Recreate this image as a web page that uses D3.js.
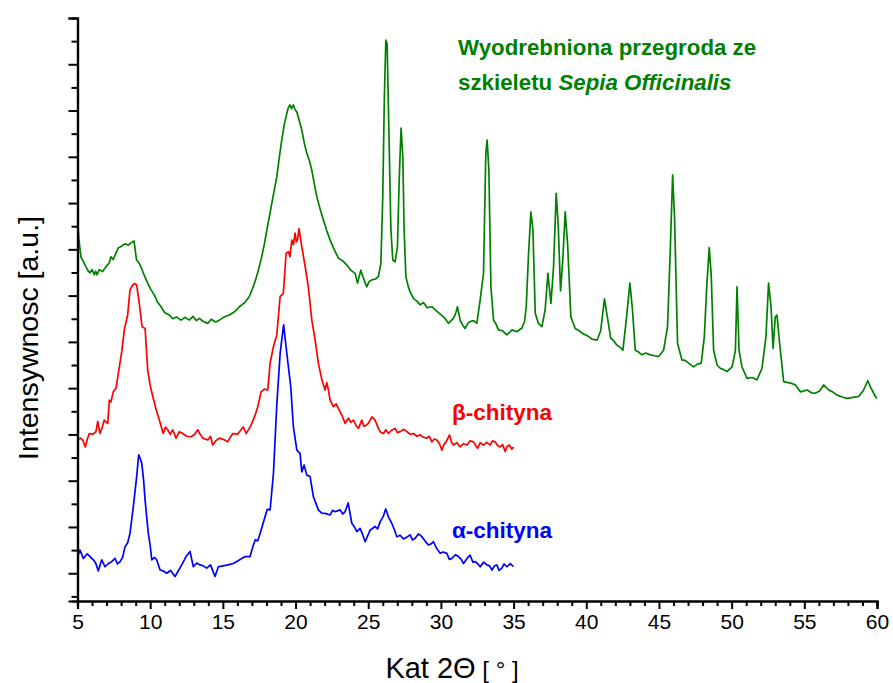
<!DOCTYPE html>
<html>
<head>
<meta charset="utf-8">
<script src="https://cdn.jsdelivr.net/npm/d3@7/dist/d3.min.js"></script>
<style>
  html, body { margin: 0; padding: 0; background: #fff; }
  svg { display: block; font-family: "Liberation Sans", Arial, Helvetica, sans-serif; }
</style>
</head>
<body>
<svg id="chart" width="893" height="683"></svg>
<script>
// Diffraction scans: [angle 2θ in degrees, intensity in a.u. (offset stacked)]
const sepiaScan = [
  [5.01,76.3],[5.10,72.0],[5.24,68.3],[5.40,67.4],[5.58,66.2],[5.72,65.4],[5.86,64.9],[6.00,65.6],[6.16,64.5],[6.25,65.3],[6.34,64.5],[6.50,65.6],
  [6.73,65.2],[6.90,66.0],[7.05,66.6],[7.17,67.0],[7.30,68.4],[7.45,67.8],[7.65,69.2],[7.80,70.3],[8.00,70.6],[8.11,70.9],[8.30,71.2],[8.50,70.9],
  [8.68,71.4],[8.89,71.8],[9.06,67.7],[9.20,67.2],[9.37,66.2],[9.60,64.3],[9.83,62.7],[10.05,61.3],[10.29,60.1],[10.50,58.6],[10.75,57.6],
  [11.00,56.3],[11.32,55.8],[11.55,55.0],[11.80,55.4],[12.12,54.7],[12.40,55.3],[12.69,54.7],[12.95,55.5],[13.18,54.6],[13.38,55.1],[13.65,54.4],
  [13.96,54.0],[14.20,54.9],[14.50,54.3],[14.76,54.7],[15.10,55.4],[15.45,55.8],[15.80,56.5],[16.14,57.6],[16.50,58.5],[16.82,59.8],[17.05,61.6],
  [17.25,63.4],[17.45,65.6],[17.65,68.1],[17.82,70.6],[17.99,73.5],[18.20,77.1],[18.37,80.0],[18.55,83.0],[18.71,85.7],[18.88,89.8],[19.05,93.6],
  [19.22,96.9],[19.40,99.4],[19.50,100.6],[19.62,101.2],[19.72,100.4],[19.85,101.2],[19.95,100.3],[20.09,99.7],[20.25,97.9],[20.43,95.8],[20.60,93.0],
  [20.77,90.8],[20.95,89.2],[21.12,87.1],[21.30,84.0],[21.46,81.4],[21.70,78.6],[21.92,76.3],[22.15,74.0],[22.38,72.0],[22.65,70.0],[22.95,68.1],
  [23.25,67.5],[23.53,66.6],[23.80,65.5],[24.10,64.8],[24.26,62.7],[24.49,65.5],[24.70,63.5],[24.90,61.9],[25.05,63.0],[25.25,63.4],[25.50,63.6],
  [25.70,64.1],[25.87,67.0],[26.00,81.4],[26.11,103.0],[26.21,115.2],[26.30,114.5],[26.42,95.8],[26.56,74.2],[26.69,67.7],[26.85,67.3],[27.01,70.6],
  [27.13,85.0],[27.26,96.2],[27.38,90.0],[27.47,74.2],[27.59,64.1],[27.75,62.0],[27.88,60.8],[28.11,59.4],[28.35,58.8],[28.57,58.0],[28.80,58.5],
  [29.05,57.4],[29.38,57.6],[29.65,56.8],[29.95,56.0],[30.25,55.2],[30.52,54.0],[30.70,54.6],[30.86,55.1],[31.00,56.0],[31.14,57.6],[31.32,54.7],
  [31.50,53.6],[31.67,52.9],[31.85,54.0],[32.01,54.4],[32.25,54.6],[32.47,54.0],[32.70,59.1],[32.93,64.8],[33.09,90.8],[33.18,93.6],[33.30,87.1],
  [33.44,61.9],[33.62,54.7],[33.80,53.8],[33.96,52.6],[34.25,52.4],[34.54,51.5],[34.90,52.6],[35.23,52.2],[35.57,53.0],[35.75,54.3],[35.87,57.6],
  [36.03,69.1],[36.19,78.1],[36.33,74.2],[36.49,56.2],[36.71,54.0],[36.95,53.3],[37.17,56.9],[37.36,64.8],[37.57,58.3],[37.75,66.3],[37.93,82.1],
  [38.07,75.3],[38.23,61.0],[38.39,68.1],[38.55,78.1],[38.72,70.9],[38.94,55.4],[39.24,52.9],[39.50,52.4],[39.81,51.7],[40.10,51.3],[40.39,50.6],
  [40.75,50.4],[40.99,52.4],[41.25,59.3],[41.46,55.2],[41.68,50.8],[41.90,50.2],[42.11,49.3],[42.30,48.9],[42.52,48.2],[42.75,54.7],[43.00,62.7],
  [43.18,56.9],[43.37,48.2],[43.60,47.8],[43.83,47.2],[44.10,47.6],[44.40,47.2],[44.70,47.0],[44.97,46.8],[45.32,48.2],[45.59,53.3],[45.78,69.9],
  [45.94,86.1],[46.07,77.1],[46.28,49.7],[46.58,46.1],[46.80,46.0],[47.04,45.4],[47.38,44.6],[47.65,45.2],[47.91,45.4],[48.12,51.1],[48.30,62.7],
  [48.46,70.4],[48.60,64.1],[48.76,48.2],[49.00,45.0],[49.22,44.3],[49.45,44.0],[49.68,43.6],[50.03,44.6],[50.26,48.2],[50.37,61.9],[50.51,48.2],
  [50.71,44.6],[51.06,42.1],[51.40,42.3],[51.74,41.8],[52.09,44.3],[52.36,51.1],[52.54,62.7],[52.71,57.6],[52.85,48.6],[53.00,55.4],[53.12,55.8],
  [53.30,49.7],[53.58,41.4],[54.04,41.1],[54.39,40.7],[54.73,39.2],[55.19,39.6],[55.50,39.0],[55.76,38.9],[56.05,39.4],[56.33,40.7],[56.68,39.6],
  [56.95,39.2],[57.25,38.5],[57.60,38.1],[57.94,37.8],[58.35,38.0],[58.74,38.2],[59.08,39.6],[59.36,41.6],[59.59,40.0],[59.89,38.2],[60.00,37.8]
];

const betaChitin = [
  [5.01,28.8],[5.20,29.2],[5.36,28.8],[5.54,27.3],[5.68,29.0],[5.81,30.2],[6.05,30.0],[6.27,30.6],[6.39,32.8],[6.55,30.2],[6.70,31.5],[6.84,33.1],
  [7.08,32.4],[7.19,37.4],[7.30,37.0],[7.46,39.2],[7.65,40.0],[7.88,44.6],[8.05,48.0],[8.22,52.6],[8.45,55.8],[8.61,61.2],[8.80,62.3],[8.95,62.6],
  [9.07,62.3],[9.25,58.3],[9.44,53.3],[9.65,52.9],[9.83,43.9],[10.00,40.6],[10.18,38.2],[10.40,35.5],[10.63,33.1],[10.90,30.2],[11.05,31.6],
  [11.21,31.0],[11.38,30.0],[11.55,31.0],[11.78,29.2],[12.00,30.6],[12.24,30.2],[12.50,29.6],[12.81,29.5],[13.05,30.0],[13.27,31.0],[13.45,30.0],
  [13.62,29.2],[13.96,28.8],[14.15,29.6],[14.30,27.7],[14.50,28.6],[14.76,29.2],[15.05,28.9],[15.34,28.4],[15.50,29.3],[15.68,30.2],[16.00,30.0],
  [16.25,31.0],[16.40,31.6],[16.60,30.2],[16.80,31.2],[16.94,32.0],[17.20,34.0],[17.40,36.0],[17.63,39.2],[17.85,39.8],[18.09,39.6],[18.25,45.4],
  [18.48,49.0],[18.71,51.5],[18.94,59.8],[19.16,60.5],[19.35,69.1],[19.51,69.5],[19.62,68.4],[19.74,72.0],[19.85,71.0],[19.97,73.5],[20.05,71.6],
  [20.13,72.0],[20.24,74.5],[20.43,70.6],[20.66,66.3],[20.88,61.9],[21.12,54.7],[21.35,50.4],[21.57,45.4],[21.81,41.8],[22.03,39.6],[22.15,41.2],
  [22.26,39.6],[22.38,37.4],[22.60,36.0],[22.80,36.6],[22.95,35.6],[23.18,34.2],[23.41,32.4],[23.64,33.5],[23.80,32.6],[23.98,33.1],[24.15,32.0],
  [24.33,31.3],[24.56,33.1],[24.70,31.8],[24.86,32.0],[25.01,32.4],[25.25,33.8],[25.47,33.1],[25.70,31.3],[25.85,30.5],[26.05,30.2],[26.22,31.0],
  [26.39,30.2],[26.60,30.9],[26.85,31.3],[27.00,30.4],[27.20,30.6],[27.45,31.1],[27.66,30.6],[27.90,30.0],[28.11,30.2],[28.35,29.6],[28.57,29.9],
  [28.80,29.4],[29.03,29.2],[29.20,29.6],[29.38,28.4],[29.55,29.0],[29.72,28.8],[29.90,28.0],[30.07,26.6],[30.20,27.8],[30.36,28.4],[30.59,29.9],
  [30.72,28.4],[30.86,27.7],[31.10,28.2],[31.33,27.3],[31.55,28.0],[31.79,27.7],[32.00,28.6],[32.24,28.4],[32.52,27.0],[32.70,28.2],[32.93,27.7],
  [33.15,28.3],[33.39,27.7],[33.55,28.6],[33.73,28.4],[33.90,27.6],[34.08,27.3],[34.25,27.8],[34.42,26.3],[34.55,27.4],[34.72,27.7],[34.88,26.8],[35.00,27.3]
];

const alphaChitin = [
  [5.01,3.6],[5.17,5.0],[5.40,3.2],[5.67,4.2],[5.90,3.5],[6.09,2.9],[6.25,2.2],[6.43,0.5],[6.55,1.8],[6.67,2.9],[6.89,1.4],[7.12,2.1],[7.35,2.5],
  [7.58,3.2],[7.75,2.0],[7.93,2.5],[8.10,3.4],[8.27,5.7],[8.45,6.6],[8.61,8.6],[8.84,14.4],[9.07,20.9],[9.21,25.6],[9.30,24.9],[9.42,23.8],[9.55,20.0],
  [9.65,15.8],[9.87,8.6],[10.00,6.0],[10.11,2.9],[10.30,3.4],[10.45,2.9],[10.68,0.7],[10.90,0.5],[11.14,0.0],[11.40,0.6],[11.71,-0.7],[11.95,0.6],
  [12.17,1.8],[12.47,3.6],[12.74,4.7],[12.97,1.4],[13.20,2.2],[13.43,1.8],[13.65,1.6],[13.89,1.1],[14.15,1.8],[14.46,-0.7],[14.69,1.4],[15.00,1.6],
  [15.35,1.8],[15.72,2.1],[16.10,2.8],[16.53,3.6],[16.87,3.6],[17.05,5.6],[17.22,7.2],[17.40,7.0],[17.56,8.6],[17.75,10.6],[17.90,12.2],[18.05,13.8],
  [18.25,13.7],[18.48,21.6],[18.71,36.4],[18.94,47.5],[19.18,53.7],[19.40,47.5],[19.67,40.3],[19.85,31.7],[20.09,26.6],[20.31,25.9],[20.43,21.9],
  [20.59,23.4],[20.77,21.2],[21.00,20.9],[21.23,16.5],[21.57,13.7],[21.80,13.0],[22.03,12.95],[22.38,12.6],[22.55,13.6],[22.72,13.3],[23.07,13.7],
  [23.25,12.8],[23.41,13.3],[23.62,15.2],[23.87,10.8],[24.05,10.0],[24.22,9.0],[24.44,9.7],[24.60,8.5],[24.79,6.8],[25.13,9.3],[25.47,10.1],
  [25.65,9.6],[25.82,11.1],[26.05,12.4],[26.20,13.9],[26.39,12.2],[26.62,10.8],[26.80,9.4],[26.97,7.9],[27.20,8.2],[27.42,7.4],[27.65,7.8],
  [27.88,8.3],[28.05,7.2],[28.23,7.55],[28.45,8.5],[28.69,7.9],[28.90,7.0],[29.14,6.1],[29.30,6.3],[29.49,6.8],[29.70,5.4],[29.95,4.3],[30.15,4.6],
  [30.41,4.3],[30.58,3.0],[30.75,3.2],[31.00,4.0],[31.21,3.6],[31.40,3.0],[31.55,2.1],[31.80,3.2],[32.01,3.9],[32.20,2.4],[32.36,2.5],[32.55,2.0],
  [32.70,1.4],[32.95,2.4],[33.16,1.8],[33.35,1.6],[33.51,0.7],[33.70,1.6],[33.85,1.8],[34.00,0.6],[34.19,1.1],[34.35,2.0],[34.54,1.4],[34.77,2.1],[35.00,1.4]
];

const xMajorTicks = [5, 10, 15, 20, 25, 30, 35, 40, 45, 50, 55, 60];
const xMinorTicks = d3.range(6, 60).filter(v => v % 5 !== 0);
const yMajorTicks = d3.range(0, 121, 10);
const yMinorTicks = d3.range(-5, 120, 10);

const svg = d3.select("#chart");
const margin = { left: 77.5, right: 16, top: 18, bottom: 82 };
const W = 893, H = 683;

const x = d3.scaleLinear().domain([5, 60]).range([margin.left, W - margin.right]);
const y = d3.scaleLinear().domain([-6, 120]).range([H - margin.bottom, margin.top]);

const line = d3.line().x(d => x(d[0])).y(d => y(d[1]));

const series = [
  { data: alphaChitin, color: "#0000ff" },
  { data: betaChitin, color: "#ff0000" },
  { data: sepiaScan, color: "#008000" }
];

svg.append("g").selectAll("path").data(series).join("path")
  .attr("d", d => line(d.data))
  .attr("fill", "none")
  .attr("stroke", d => d.color)
  .attr("stroke-width", 1.7)
  .attr("stroke-linejoin", "round");

// Axes
const xAxis = svg.append("g").attr("transform", `translate(0,${y(-6)})`);
xAxis.call(d3.axisBottom(x).tickValues(xMinorTicks).tickSize(5).tickFormat(""));
xAxis.call(g => g.append("g").call(d3.axisBottom(x).tickValues(xMajorTicks).tickSize(8).tickFormat(d3.format("d")).tickPadding(5)));

const yAxis = svg.append("g").attr("transform", `translate(${margin.left},0)`);
yAxis.call(d3.axisLeft(y).tickValues(yMinorTicks).tickSize(6).tickFormat(""));
yAxis.call(g => g.append("g").call(d3.axisLeft(y).tickValues(yMajorTicks).tickSize(9).tickFormat("")));

svg.selectAll(".domain").attr("stroke", "#000").attr("stroke-width", 2.2);
svg.selectAll(".tick line").attr("stroke", "#000").attr("stroke-width", 2);
svg.selectAll(".tick text").attr("font-size", 21).attr("fill", "#000")
  .attr("font-family", "Liberation Sans, Arial, sans-serif");

// Axis titles
svg.append("text")
  .attr("x", 452).attr("y", 678)
  .attr("text-anchor", "middle").attr("font-size", 29).attr("fill", "#000")
  .html('Kat 2Θ<tspan font-size="24"> [ ° ]</tspan>');

svg.append("text")
  .attr("transform", `translate(38,338) rotate(-90)`)
  .attr("text-anchor", "middle").attr("font-size", 28.5).attr("fill", "#000")
  .text("Intensywnosc [a.u.]");

// Series labels
const green = "#008000";
const t1 = svg.append("text").attr("x", 458).attr("y", 55)
  .attr("font-size", 22.3).attr("font-weight", "bold").attr("fill", green)
  .text("Wyodrebniona przegroda ze");
const t2 = svg.append("text").attr("x", 458).attr("y", 90)
  .attr("font-size", 22.3).attr("font-weight", "bold").attr("fill", green);
t2.append("tspan").text("szkieletu ");
t2.append("tspan").attr("font-style", "italic").text("Sepia Officinalis");

svg.append("text").attr("x", 452).attr("y", 420)
  .attr("font-size", 22.5).attr("font-weight", "bold").attr("fill", "#ff0000")
  .text("β-chityna");
svg.append("text").attr("x", 452).attr("y", 538)
  .attr("font-size", 22.5).attr("font-weight", "bold").attr("fill", "#0000ff")
  .text("α-chityna");
</script>
</body>
</html>
